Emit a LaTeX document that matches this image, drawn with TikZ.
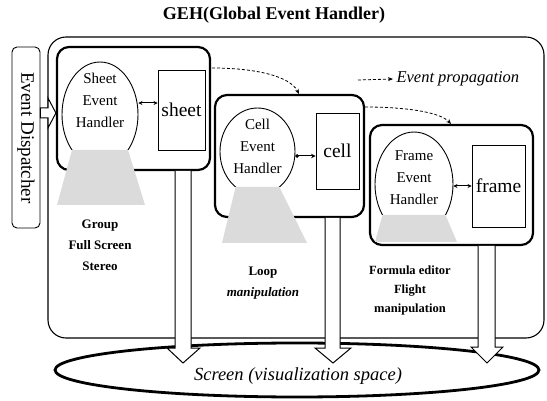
\documentclass[tikz,border=0pt]{standalone}
\usepackage{fontspec}
\setmainfont{Liberation Serif}
\usetikzlibrary{arrows.meta,shapes.geometric}
\tikzset{
  panel/.style={draw, line width=2.2pt, rounded corners=12pt, inner sep=0pt},
  objrect/.style={draw, line width=0.9pt, inner sep=0pt, font=\fontsize{19.5}{20}\selectfont},
  hell/.style={draw, ellipse, line width=0.9pt, fill=white, inner sep=0pt},
  htext/.style={align=center, font=\fontsize{15}{22}\selectfont},
  stip/.style={fill=gray!28},
  biarrow/.style={line width=1pt, {Stealth[length=4pt,width=4pt]}-{Stealth[length=4pt,width=4pt]}},
  prop/.style={densely dashed, line width=0.8pt, -{Stealth[length=5pt,width=4pt]}},
  hollow/.style={draw, line width=1pt, fill=white},
  lbl/.style={align=center, font=\bfseries\fontsize{13}{21}\selectfont},
}
\begin{document}
\begin{tikzpicture}[x=1pt,y=-1pt]
\useasboundingbox (0,0) rectangle (547,401);
% title
\node[font=\bfseries\fontsize{18}{18}\selectfont] (title) at (274,15) {GEH(Global Event Handler)};
% event dispatcher
\node[draw, line width=0.9pt, rounded corners=5pt, minimum width=28, minimum height=181, inner sep=0pt] (ed) at (26,137.5) {};
\node[rotate=-90, font=\fontsize{19}{19}\selectfont] (edtext) at (26,138) {Event Dispatcher};
% outer GEH box
\node[draw, line width=1.1pt, rounded corners=18pt, minimum width=496, minimum height=301, inner sep=0pt] (geh) at (296,187.5) {};
% screen ellipse
\node[draw, ellipse, line width=2.8pt, minimum width=484, minimum height=54, inner sep=0pt] (screen) at (297,370) {};
\node[font=\itshape\fontsize{18.5}{18.5}\selectfont] (screentext) at (298,376) {Screen (visualization space)};
% panels
\node[panel, minimum width=153, minimum height=123] (sheetpanel) at (133.5,108.5) {};
\node[panel, minimum width=149, minimum height=122] (cellpanel) at (289.5,156) {};
\node[panel, minimum width=163, minimum height=120] (framepanel) at (451.5,185) {};
% handler ellipses (clipped at bottom)
\begin{scope}
  \clip (0,0) rectangle (547,150);
  \node[hell, minimum width=76, minimum height=105] (sheetell) at (100,114.5) {};
\end{scope}
\begin{scope}
  \clip (0,0) rectangle (547,187);
  \node[hell, minimum width=75, minimum height=87.2] (cellell) at (257.5,151.6) {};
\end{scope}
\begin{scope}
  \clip (0,0) rectangle (547,215);
  \node[hell, minimum width=78, minimum height=104.4] (frameell) at (414,184.2) {};
\end{scope}
% stippled trapezoids
\fill[stip] (72,150) -- (128,150) -- (145,205) -- (57,205) -- cycle;
\fill[stip] (235.6,187) -- (279.4,187) -- (307,243) -- (222,243) -- cycle;
\fill[stip] (382.5,215) -- (445.5,215) -- (457,242) -- (375,242) -- cycle;
% handler texts
\node[htext] (sheeth) at (100,100) {Sheet\\Event\\Handler};
\node[htext] (cellh) at (257.5,146) {Cell\\Event\\Handler};
\node[htext] (frameh) at (414,178) {Frame\\Event\\Handler};
% object rectangles
\node[objrect, minimum width=47, minimum height=80] (sheetrect) at (181.5,110) {sheet};
\node[objrect, minimum width=43, minimum height=76] (cellrect) at (337.5,151) {cell};
\node[objrect, minimum width=53, minimum height=82] (framerect) at (498.5,186) {frame};
% handler-object arrows
\draw[biarrow] (sheetell.east |- 0,103) -- (sheetrect.west |- 0,103);
\draw[line width=1pt, {Circle[length=3.5pt]}-{Stealth[length=4.5pt,width=4.5pt]}] (cellell.east |- 0,156) -- (cellrect.west |- 0,156);
\draw[biarrow] (frameell.east |- 0,186) -- (framerect.west |- 0,186);
% labels
\node[lbl] (glbl) at (100,245) {Group\\Full Screen\\Stereo};
\node[lbl] (llbl) at (263,283) {Loop\\\textit{manipulation}};
\node[align=center, font=\bfseries\fontsize{12.5}{19}\selectfont] (flbl) at (410,290) {Formula editor\\Flight\\manipulation};
% event propagation
\coordinate (p1s) at (212,68);
\coordinate (p1e) at (299,94);
\coordinate (p2s) at (365,107);
\coordinate (p2e) at (451,124);
\draw[prop] (p1s) .. controls (255,68) and (290,76) .. (p1e);
\draw[prop] (p2s) .. controls (405,107) and (440,112) .. (p2e);
\coordinate (legs) at (358,80);
\node[anchor=west, font=\itshape\fontsize{16.5}{16.5}\selectfont] (legt) at (393,79) {Event propagation};
\draw[prop] (legs) -- (legt.west);
% dispatcher arrow
\path[hollow] (ed.east |- 0,108) -- (48,108) -- (48,98) -- (sheetpanel.west |- 0,113) -- (48,128) -- (48,118) -- (ed.east |- 0,118) -- cycle;
% hollow down arrows to screen
\path[hollow] (175,171) -- (175,348) -- (167,348) -- (183,363) -- (200,348) -- (191,348) -- (191,171);
\path[hollow] (325,218) -- (325,348) -- (315,348) -- (333,363) -- (351,348) -- (340,348) -- (340,218);
\path[hollow] (478,246) -- (478,347) -- (471,347) -- (487,363) -- (503,347) -- (495,347) -- (495,246);
\end{tikzpicture}
\end{document}
